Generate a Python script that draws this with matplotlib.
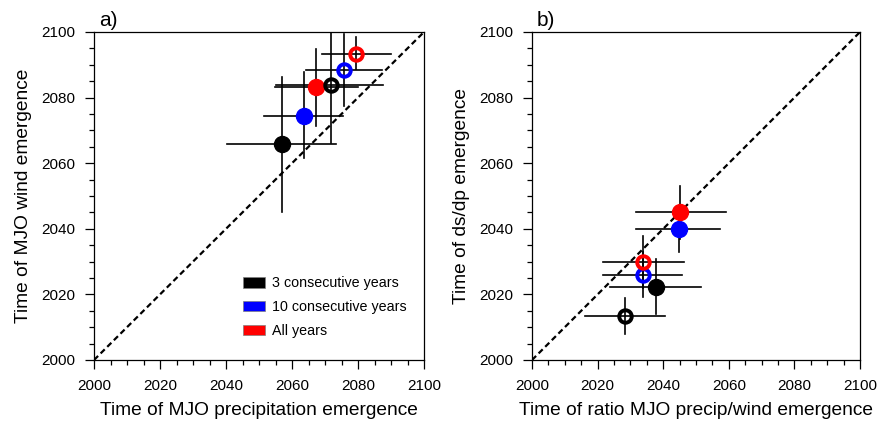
import matplotlib
matplotlib.use("Agg")
import matplotlib.pyplot as plt
from matplotlib.patches import Patch
from matplotlib.ticker import MultipleLocator

plt.rcParams['font.family'] = ['Liberation Sans', 'DejaVu Sans']

# ---- data ----
colors = ['black', 'blue', 'red']
labels = ['3 consecutive years', '10 consecutive years', 'All years']

# Panel a: filled markers (one set) and open markers (other set), order: black, blue, red
a_fill_x = [2057.0, 2063.6, 2067.3]
a_fill_y = [2066.0, 2074.5, 2083.1]
a_fill_xlo = [2040.3, 2051.6, 2054.8]
a_fill_xhi = [2073.4, 2075.4, 2079.9]
a_fill_ylo = [2045.2, 2061.5, 2071.3]
a_fill_yhi = [2086.4, 2087.7, 2094.7]

a_open_x = [2071.7, 2075.7, 2079.5]
a_open_y = [2083.7, 2088.4, 2093.4]
a_open_xlo = [2055.3, 2064.2, 2069.0]
a_open_xhi = [2087.7, 2087.3, 2090.1]
a_open_ylo = [2066.1, 2077.4, 2088.6]
a_open_yhi = [2102.0, 2099.4, 2098.4]

# Panel b
b_fill_x = [2037.7, 2044.7, 2045.2]
b_fill_y = [2022.3, 2040.0, 2045.0]
b_fill_xlo = [2023.9, 2031.8, 2031.6]
b_fill_xhi = [2051.6, 2057.4, 2059.2]
b_fill_ylo = [2014.0, 2033.0, 2037.0]
b_fill_yhi = [2030.7, 2045.0, 2053.1]

b_open_x = [2028.5, 2033.8, 2033.8]
b_open_y = [2013.4, 2026.0, 2030.0]
b_open_xlo = [2016.2, 2021.7, 2021.7]
b_open_xhi = [2040.4, 2045.8, 2046.3]
b_open_ylo = [2008.0, 2019.3, 2022.0]
b_open_yhi = [2018.8, 2033.0, 2037.8]

panels = [
    dict(tag='a)', xlabel='Time of MJO precipitation emergence', ylabel='Time of MJO wind emergence',
         fill=(a_fill_x, a_fill_y, a_fill_xlo, a_fill_xhi, a_fill_ylo, a_fill_yhi),
         open=(a_open_x, a_open_y, a_open_xlo, a_open_xhi, a_open_ylo, a_open_yhi)),
    dict(tag='b)', xlabel='Time of ratio MJO precip/wind emergence', ylabel='Time of ds/dp emergence',
         fill=(b_fill_x, b_fill_y, b_fill_xlo, b_fill_xhi, b_fill_ylo, b_fill_yhi),
         open=(b_open_x, b_open_y, b_open_xlo, b_open_xhi, b_open_ylo, b_open_yhi)),
]

W, H = 877, 423
fig = plt.figure(figsize=(W / 100, H / 100), dpi=100)
rects = [(94, 424), (532, 860)]
top_px, bot_px = 32, 360

for (l, r), p in zip(rects, panels):
    ax = fig.add_axes([l / W, (H - bot_px) / H, (r - l) / W, (bot_px - top_px) / H])
    ax.set_xlim(2000, 2100)
    ax.set_ylim(2000, 2100)
    ax.plot([2000, 2100], [2000, 2100], color='black', ls=(0, (2.6, 1.6)), lw=1.6, zorder=1)

    for kind in ('fill', 'open'):
        xs, ys, xlo, xhi, ylo, yhi = p[kind]
        for i in range(3):
            ax.plot([xlo[i], xhi[i]], [ys[i], ys[i]], color='black', lw=1.2, zorder=2)
            ax.plot([xs[i], xs[i]], [ylo[i], yhi[i]], color='black', lw=1.2, zorder=2)
    for kind in ('fill', 'open'):
        xs, ys = p[kind][0], p[kind][1]
        for i in range(3):
            if kind == 'fill':
                ax.plot(xs[i], ys[i], 'o', ms=11.5, color=colors[i], mec=colors[i], zorder=3)
            else:
                ax.plot(xs[i], ys[i], 'o', ms=9, mfc='none', mec=colors[i], mew=2.8, zorder=3)

    ax.xaxis.set_major_locator(MultipleLocator(20))
    ax.xaxis.set_minor_locator(MultipleLocator(5))
    ax.yaxis.set_major_locator(MultipleLocator(20))
    ax.yaxis.set_minor_locator(MultipleLocator(5))
    ax.tick_params(which='both', direction='out', top=False, right=False, labelsize=11, width=0.9)
    ax.tick_params(which='major', length=6.5, pad=7)
    ax.tick_params(which='minor', length=3.5)
    for s in ax.spines.values():
        s.set_linewidth(0.9)
    ax.set_xlabel(p['xlabel'], fontsize=13.8, labelpad=7)
    ax.set_ylabel(p['ylabel'], fontsize=13.8, labelpad=7)
    ax.text(0.015, 1.005, p['tag'], transform=ax.transAxes, fontsize=15, ha='left', va='bottom')

    if p['tag'] == 'a)':
        handles = [Patch(facecolor=c, edgecolor='0.5', lw=0.5) for c in colors]
        ax.legend(handles, labels, loc='upper left', bbox_to_anchor=(0.45, 0.255), frameon=False,
                  fontsize=10.3, handlelength=1.55, handleheight=0.75, handletextpad=0.5,
                  labelspacing=0.68, borderaxespad=0, borderpad=0)

fig.savefig('out.png', dpi=100)
